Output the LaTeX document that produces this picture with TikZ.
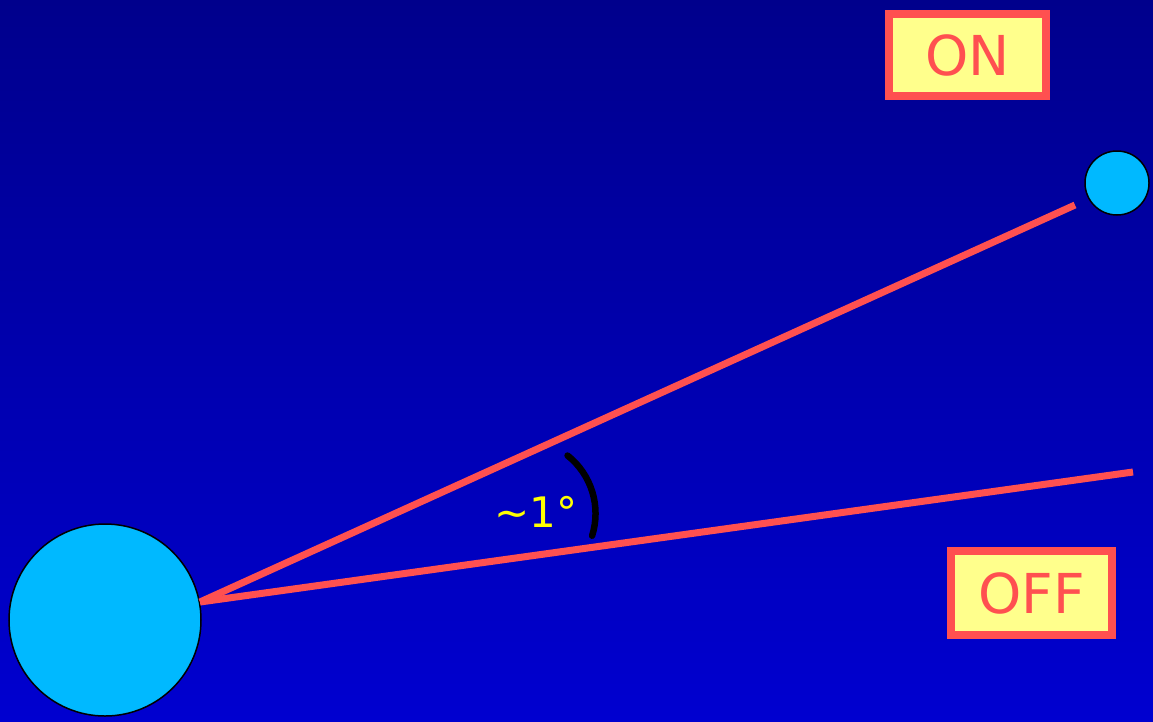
\documentclass[tikz,border=0pt]{standalone}
\usepackage{fontspec}
\setmainfont{DejaVu Sans}
\definecolor{bgtop}{RGB}{0,0,140}
\definecolor{bgbot}{RGB}{0,0,208}
\definecolor{planet}{RGB}{0,185,255}
\definecolor{beam}{RGB}{255,80,80}
\definecolor{lbl}{RGB}{255,255,140}
\definecolor{angtxt}{RGB}{255,255,0}
\tikzset{
  body/.style={circle,draw=black,line width=1.5pt,fill=planet,inner sep=0pt},
  ray/.style={draw=beam,line width=7pt},
  tag/.style={draw=beam,line width=8pt,fill=lbl,inner sep=0pt,outer sep=0pt,anchor=north west},
  tagtext/.style={text=beam,font=\fontsize{55}{62}\selectfont,inner sep=0pt},
}
\begin{document}
\begin{tikzpicture}[x=1pt,y=-1pt]
\shade[top color=bgtop,bottom color=bgbot] (0,0) rectangle (1153,721);
\useasboundingbox (0,0) rectangle (1153,721);
\node[body,minimum size=192pt] (earth) at (105,620) {};
\node[body,minimum size=64pt] (moon) at (1117,183) {};
\coordinate (V) at (200,602);
\coordinate (onend) at (1075,205);
\coordinate (offend) at (1133,472);
\draw[ray] (V) -- (onend);
\draw[ray] (V) -- (offend);
\coordinate (arcA) at (567.5,455.5);
\draw[black,line width=6.5pt,line cap=round] (arcA) arc[start angle=-51.6,end angle=17.5,radius=74];
\node[text=angtxt,font=\fontsize{42}{50}\selectfont,inner sep=0pt] (ang) at (536,512) {\char`\~1°};
\node[tag,minimum width=157pt,minimum height=82pt] (on) at (889,14) {};
\node[tagtext] (ontext) at (on.center) {ON};
\node[tag,minimum width=161pt,minimum height=84pt] (off) at (951,551) {};
\node[tagtext] (offtext) at (off.center) {OFF};
\end{tikzpicture}
\end{document}
